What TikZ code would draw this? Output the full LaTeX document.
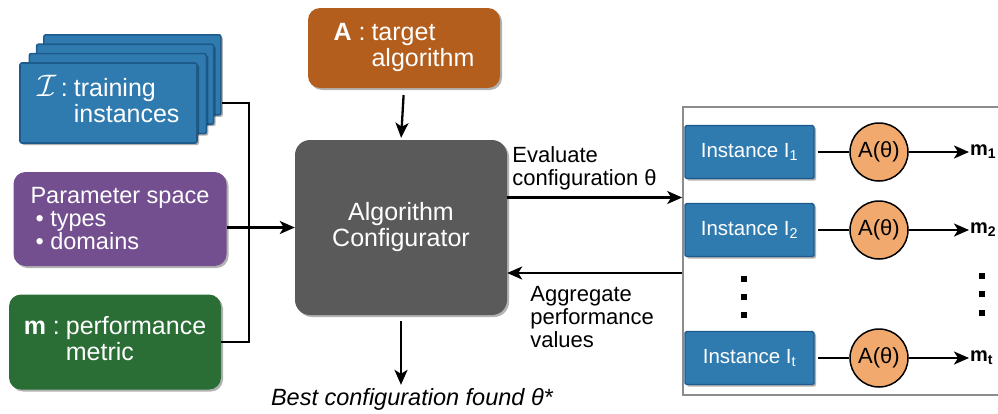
\documentclass[tikz,border=0pt]{standalone}
\usepackage{fontspec}
\setmainfont{Liberation Sans}
\usetikzlibrary{arrows.meta,shadows}

\definecolor{instblue}{HTML}{2F7BB0}
\definecolor{instedge}{HTML}{1E5A8C}
\definecolor{parampurple}{HTML}{734F8F}
\definecolor{metricgreen}{HTML}{2A6D35}
\definecolor{algorange}{HTML}{B45E1D}
\definecolor{confgray}{HTML}{5A5A5A}
\definecolor{runorange}{HTML}{F2A96E}
\definecolor{framegray}{HTML}{8C8C8C}

\tikzset{
  arr/.style={line width=2.3pt, -{Stealth[length=15pt,width=13pt,inset=4pt]}},
  conn/.style={line width=2.3pt},
  shade/.style={drop shadow={shadow xshift=2pt,shadow yshift=-2pt,opacity=0.3,fill=black}},
  stackbox/.style={draw=instedge, fill=instblue, line width=1.6pt, rounded corners=2pt,
    minimum width=177pt, minimum height=80pt, shade},
  inbox/.style={rounded corners=12pt, text=white, inner sep=0pt, shade,
    font=\fontsize{25}{26}\selectfont},
  instbox/.style={draw=instedge, fill=instblue, line width=1.4pt, rounded corners=1.5pt,
    text=white, minimum width=129pt, minimum height=53pt, shade,
    font=\fontsize{20.5}{22}\selectfont},
  run/.style={circle, draw, fill=runorange, line width=1.5pt, minimum size=58pt,
    inner sep=0pt, font=\fontsize{22}{24}\selectfont},
  mlabel/.style={anchor=west, inner sep=1pt, font=\fontsize{20}{22}\selectfont\bfseries},
  dot/.style={fill, minimum size=5.5pt, inner sep=0pt},
  note/.style={align=left, inner sep=0pt, font=\fontsize{22}{23}\selectfont},
}

\begin{document}
\begin{tikzpicture}[x=1pt,y=-1pt]
  \useasboundingbox (0,0) rectangle (998,413);

  % inputs
  \foreach \k in {3,2,1}
    \node[stackbox] (train\k) at ({110.5+7.3*\k},{103-9.4*\k}) {};
  \node[stackbox, text=white, font=\fontsize{25}{26}\selectfont] (train) at (108.5,103)
    {\begin{tabular}{@{}r@{\hspace{6pt}}l@{}}\scalebox{1.25}{$\mathcal{I}$}\,: & training\\ & instances\end{tabular}};
  \node[inbox, fill=parampurple, minimum width=213pt, minimum height=94pt, align=left,
    font=\fontsize{23.5}{23}\selectfont] (param) at (120,219)
    {Parameter space\\\hspace*{5pt}• types\\\hspace*{5pt}• domains};
  \node[inbox, fill=metricgreen, minimum width=212pt, minimum height=95pt] (mm) at (115,342)
    {\begin{tabular}{@{}r@{\hspace{6pt}}l@{}}\textbf{m} : & performance\\ & metric\end{tabular}};
  \node[inbox, fill=algorange, minimum width=192pt, minimum height=80pt] (alg) at (404,48)
    {\begin{tabular}{@{}r@{\hspace{6pt}}l@{}}\textbf{A} : & target\\ & algorithm\end{tabular}};

  % configurator
  \node[inbox, fill=confgray, rounded corners=15pt, minimum width=212pt, minimum height=175pt,
    align=center] (conf) at (401,227.5) {Algorithm\\Configurator};
  \node[font=\fontsize{23.5}{24}\selectfont\itshape, inner sep=0pt] (best) at (412,399)
    {Best configuration found θ*};

  % runs
  \node[draw=framegray, line width=1.6pt, minimum width=337pt, minimum height=288pt,
    inner sep=0pt] (frame) at (851.5,251) {};
  \foreach \i/\y/\s in {1/152/1, 2/230/2, 3/358/t} {
    \node[instbox] (inst\i) at (749.5,\y) {Instance I\textsubscript{\s}};
    \node[run] (run\i) at (879,\y) {A(θ)};
    \node[mlabel] (m\i) at (969,\y) {m\textsubscript{\s}};
    \draw[conn, shorten <=3pt] (inst\i.east) -- (run\i.west);
    \draw[arr] (run\i.east) -- (m\i.west);
  }
  \foreach \y in {279,297,315} \node[dot] at (744,\y) {};
  \foreach \y in {276,294,313} \node[dot] at (982,\y) {};

  % connectors
  \coordinate (junction) at (249,227.5);
  \draw[conn] (train.east -| train3.east) -| (junction);
  \draw[conn] (mm.east) -| (junction);
  \draw[arr] (param.east |- conf.west) -- (conf.west);
  \draw[arr, shorten <=7pt, shorten >=2pt] (alg.south) -- (conf.north);
  \draw[arr, shorten <=6pt, shorten >=3pt] (conf.south) -- (conf.south |- best.north);
  \draw[arr] ([yshift=30pt]conf.east) -- ([yshift=30pt]conf.east -| frame.west)
    node[pos=0, note, anchor=south west, xshift=4pt, yshift=6pt]
    {Evaluate\\configuration θ};
  \draw[arr] ([yshift=-45.5pt]conf.east -| frame.west) -- ([yshift=-45.5pt]conf.east)
    node[pos=1, note, anchor=north west, xshift=22pt, yshift=-12pt]
    {Aggregate\\performance\\values};
\end{tikzpicture}
\end{document}
